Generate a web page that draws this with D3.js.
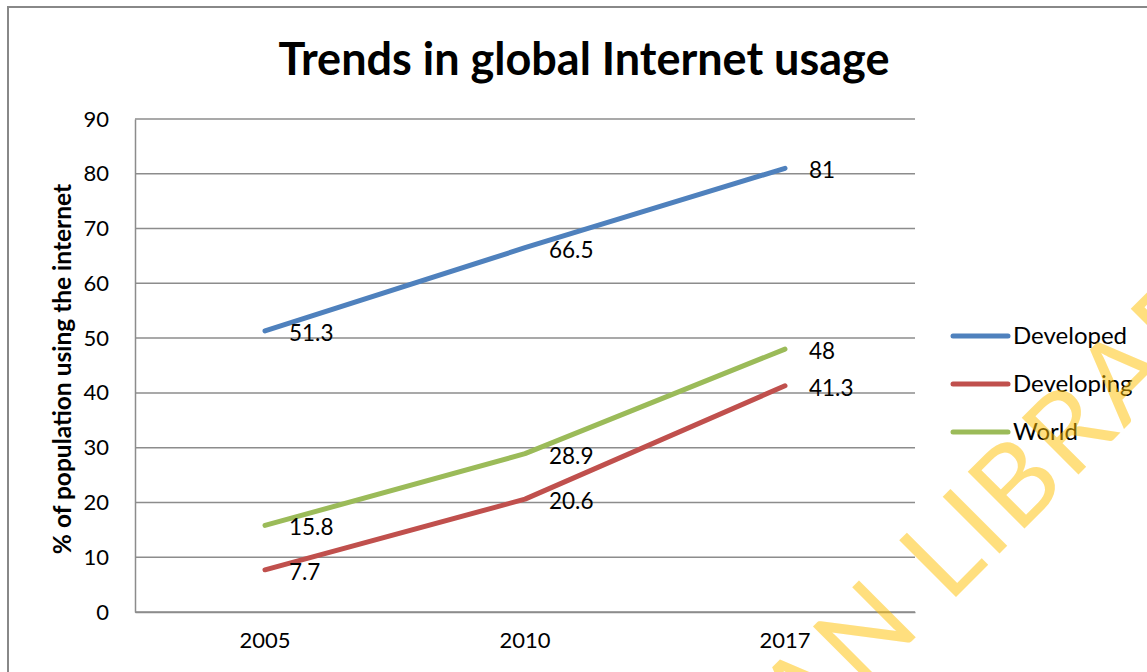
<!DOCTYPE html>
<html>
<head>
<meta charset="utf-8">
<script src="https://cdn.jsdelivr.net/npm/d3@7"></script>
<style>
  body { margin: 0; background: #ffffff; }
  text { font-family: Lato, "Open Sans", sans-serif; }
</style>
</head>
<body>
<div id="container"></div>
<script>
let w = 1147;
let h = 672;

// DATA
let years = ["2005", "2010", "2017"];
let developed = [51.3, 66.5, 81];
let developing = [7.7, 20.6, 41.3];
let world = [15.8, 28.9, 48];
let yTicks = [0, 10, 20, 30, 40, 50, 60, 70, 80, 90];

let series = [
  {name: "Developed", values: developed, color: "#4F81BD"},
  {name: "Developing", values: developing, color: "#C0504D"},
  {name: "World", values: world, color: "#9BBB59"}
];

let plotLeft = 135, plotRight = 915, plotTop = 119, plotBottom = 612;

let viz = d3.select("#container").append("svg")
    .attr("width", w)
    .attr("height", h)
    .style("display", "block");

// chart border
viz.append("rect")
    .attr("x", 8).attr("y", 7)
    .attr("width", w).attr("height", h)
    .attr("fill", "none")
    .attr("stroke", "#888888")
    .attr("stroke-width", 2);

let xScale = d3.scaleBand().domain(years).range([plotLeft, plotRight]);
let yScale = d3.scaleLinear().domain([0, 90]).range([plotBottom, plotTop]);

// gridlines
viz.append("g").selectAll("line").data(yTicks).enter().append("line")
    .attr("x1", plotLeft).attr("x2", plotRight)
    .attr("y1", d => yScale(d)).attr("y2", d => yScale(d))
    .attr("stroke", "#8c8c8c")
    .attr("stroke-width", 1.5);

// y axis
let yAxis = viz.append("g")
    .attr("transform", `translate(${plotLeft},0)`)
    .call(d3.axisLeft(yScale).tickValues(yTicks).tickSize(0).tickPadding(26));
yAxis.select(".domain").attr("stroke", "#8c8c8c").attr("stroke-width", 1.5);
yAxis.selectAll("text").attr("font-size", 22).attr("fill", "#000").attr("font-family", "Lato");

// x axis
let xAxis = viz.append("g")
    .attr("transform", `translate(0,${plotBottom})`)
    .call(d3.axisBottom(xScale).tickSize(0).tickPadding(20));
xAxis.select(".domain").attr("stroke", "#8c8c8c").attr("stroke-width", 1.5);
xAxis.selectAll("text").attr("font-size", 22).attr("fill", "#000").attr("font-family", "Lato");

// lines
let lineMaker = d3.line()
    .x((d, i) => xScale(years[i]) + xScale.bandwidth() / 2)
    .y(d => yScale(d));

viz.append("g").selectAll("path").data(series).enter().append("path")
    .attr("d", d => lineMaker(d.values))
    .attr("fill", "none")
    .attr("stroke", d => d.color)
    .attr("stroke-width", 5)
    .attr("stroke-linecap", "round")
    .attr("stroke-linejoin", "round");

// data labels
series.forEach(s => {
  viz.append("g").selectAll("text").data(s.values).enter().append("text")
      .attr("x", (d, i) => xScale(years[i]) + xScale.bandwidth() / 2 + 24)
      .attr("y", d => yScale(d) + 10)
      .attr("font-size", 22.5)
      .attr("fill", "#000")
      .text(d => d);
});

// title
viz.append("text")
    .attr("x", 584).attr("y", 75)
    .attr("text-anchor", "middle")
    .attr("font-size", 45)
    .attr("font-weight", "bold")
    .text("Trends in global Internet usage");

// y axis title
viz.append("text")
    .attr("transform", "translate(71,369) rotate(-90)")
    .attr("text-anchor", "middle")
    .attr("font-size", 24.5)
    .attr("font-weight", "bold")
    .text("% of population using the internet");

// legend
let legend = viz.append("g").selectAll("g").data(series).enter().append("g")
    .attr("transform", (d, i) => `translate(953,${336 + i * 48})`);
legend.append("line")
    .attr("x1", 0).attr("x2", 55)
    .attr("stroke", d => d.color)
    .attr("stroke-width", 5)
    .attr("stroke-linecap", "round");
legend.append("text")
    .attr("x", 60).attr("y", 8)
    .attr("font-size", 24)
    .text(d => d.name);

// watermark
viz.append("text")
    .attr("transform", "translate(806,747) rotate(-45)")
    .attr("font-family", "Liberation Sans")
    .attr("font-size", 112)
    .attr("letter-spacing", 4)
    .attr("fill", "#FFC000")
    .attr("opacity", 0.5)
    .text("AN LIBRARY");
</script>
</body>
</html>
